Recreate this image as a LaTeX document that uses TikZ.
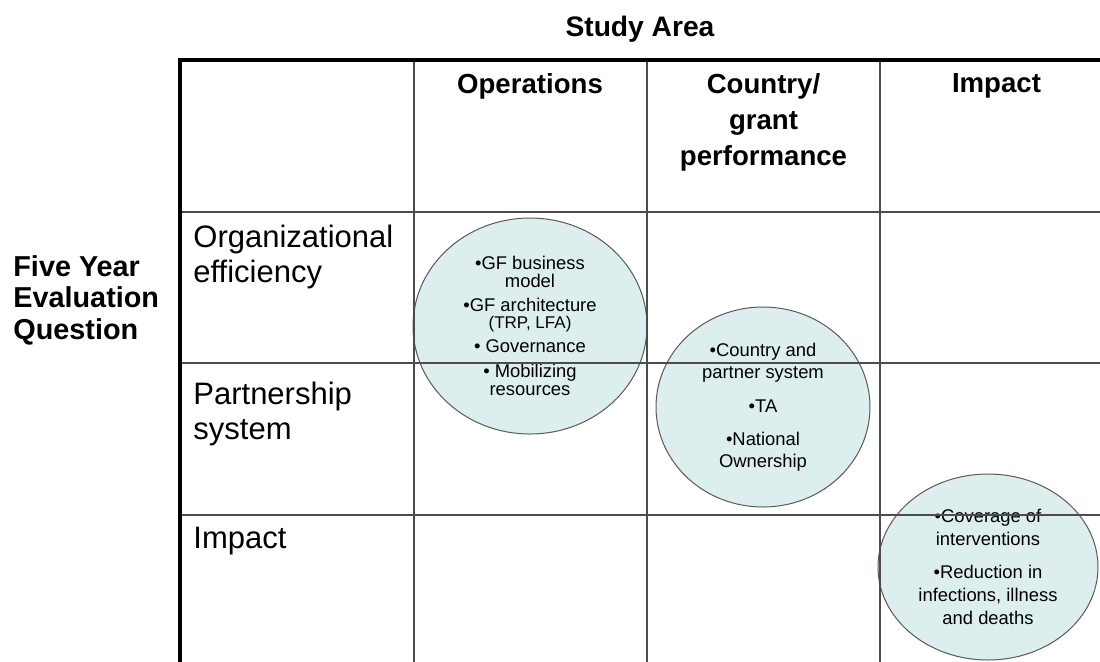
\documentclass[tikz,border=0pt]{standalone}
\usepackage{fontspec}
\setmainfont{Liberation Sans}
\usetikzlibrary{shapes.geometric}
\definecolor{bubblefill}{RGB}{221,238,238}

\begin{document}
\begin{tikzpicture}[x=0.5pt, y=-0.5pt,
    head/.style={anchor=north, align=center, inner sep=0pt, font=\fontsize{13.8}{18}\selectfont\bfseries},
    rowhead/.style={anchor=north west, align=left, inner sep=0pt, font=\fontsize{15.5}{17.5}\selectfont},
    bubble/.style={ellipse, draw=black!65, fill=bubblefill, line width=0.5pt, inner sep=0pt, align=center},
    rule/.style={draw=black!70, line width=0.8pt}]
            \def\xl{180};
            \def\xa{414};
            \def\xb{647};
            \def\xc{880};
            \def\xr{1113};

            \def\yt{60};
            \def\ya{212};
            \def\yb{363};
            \def\yc{515};
            \def\yd{667};

            \useasboundingbox (0,0) rectangle (1100,661);
            \clip (0,0) rectangle (1100,661);

            % bubbles
            \node[bubble, minimum width=117pt, minimum height=108pt, font=\fontsize{9.2}{8.8}\selectfont] (o) at (530,326)
                {•GF business\\model\\[3.2pt]•GF architecture\\{\fontsize{8.5}{8}\selectfont(TRP, LFA)}\\[3.2pt]• Governance\\[3.7pt]• Mobilizing\\resources};
            \node[bubble, minimum width=107pt, minimum height=100pt, font=\fontsize{9.2}{11}\selectfont] (c) at (763,407)
                {•Country and\\partner system\\[6pt]•TA\\[5.5pt]•National\\Ownership};
            \node[bubble, minimum width=110pt, minimum height=93pt, font=\fontsize{9.2}{11.5}\selectfont] (i) at (988,567)
                {•Coverage of\\interventions\\[5pt]•Reduction in\\infections, illness\\and deaths};

            % grid
            \foreach \x in {\xa,\xb,\xc}
                \draw[rule] (\x,\yt) -- (\x,\yd);
            \foreach \y in {\ya,\yb,\yc}
                \draw[rule] (\xl,\y) -- (\xr,\y);
            \draw[line width=2pt] (\xr,\yt) -- (\xl,\yt) -- (\xl,\yd);

            \node[anchor=north, inner sep=0pt, font=\fontsize{14.1}{17}\selectfont\bfseries] (t) at (640,16) {Study Area};
            \node[anchor=north west, align=left, inner sep=0pt, font=\fontsize{14.4}{15.75}\selectfont\bfseries] (q) at (13,255) {Five Year\\Evaluation\\Question};

            \node[head] (h1) at (530,73) {Operations};
            \node[head] (h2) at (763.5,73) {Country/\\grant\\performance};
            \node[head] (h3) at (996.5,73) {Impact};

            \node[rowhead] (r1) at (193,225) {Organizational\\efficiency};
            \node[rowhead] (r2) at (193,382) {Partnership\\system};
            \node[rowhead] (r3) at (193,527) {Impact};

        \end{tikzpicture}
\end{document}
